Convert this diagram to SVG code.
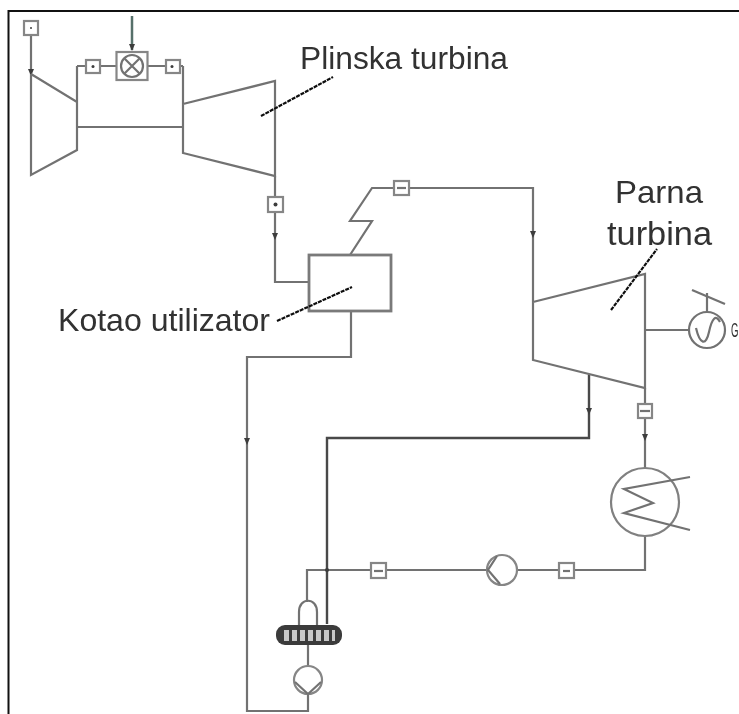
<svg xmlns="http://www.w3.org/2000/svg" width="739" height="714" viewBox="0 0 739 714">
<defs>
<filter id="soft" x="-5%" y="-5%" width="110%" height="110%"><feGaussianBlur stdDeviation="0.6"/></filter>
<filter id="softer" x="-5%" y="-15%" width="110%" height="130%"><feGaussianBlur stdDeviation="0.6"/></filter>
<polygon id="tip" points="-3,-4 3,-4 0,3" fill="#3c3c3c"/>
</defs>
<style>
.l{fill:none;stroke:#727272;stroke-width:2.200}
.d{fill:none;stroke:#484848;stroke-width:2.400}
.t{fill:none;stroke:#808080;stroke-width:2.200}
.b{fill:#fff;stroke:#868686;stroke-width:2.200}
.dot{fill:#3c3c3c}
.lead{fill:none;stroke:#111;stroke-width:2.200;stroke-dasharray:4 1}
.txt{font-family:"Liberation Sans",Arial,sans-serif;fill:#303030}
</style>
<rect width="739" height="714" fill="#fff"/>
<path d="M8.500 714V11H739" fill="none" stroke="#111" stroke-width="2"/>
<g filter="url(#soft)">
<g id="connectors">
<path class="l" d="M31 34V74"/>
<path class="l" d="M77 66H86M100 66H116M147 66H165M179 66H183"/>
<path d="M132 16V50" fill="none" stroke="#56706a" stroke-width="2.500"/>
<path class="l" d="M77 127H183"/>
<path class="l" d="M275 176V197M275 211V282H309"/>
<path class="l" d="M350 255L372 221H350L372 188H394M408 188H533V302"/>
<path class="l" d="M645 388V404M645 418V468"/>
<path class="l" d="M645 330H688"/>
<path class="l" d="M707 312V293"/>
<path class="l" d="M692 290L725 304"/>
<path class="d" d="M589 375V438H327V624"/>
<path class="l" d="M645 536V570H573M559 570H517M487 570H385M371 570H307V602"/>
<path class="l" d="M308 645V667M308 694V711H247V357H351V311"/>
<use href="#tip" x="31" y="73"/>
<use href="#tip" x="132" y="48"/>
<use href="#tip" x="275" y="237"/>
<use href="#tip" x="533" y="235"/>
<use href="#tip" x="589" y="412"/>
<use href="#tip" x="645" y="438"/>
<use href="#tip" x="247" y="442"/>
<circle class="dot" cx="327" cy="570" r="2"/>
</g>
<g id="compressor"><path class="l" d="M31 74L77 102V66M77 102V150L31 175V74"/></g>
<g id="gas-turbine"><path class="l" d="M183 66V153L275 176V81L183 104"/></g>
<g id="state-1"><rect class="b" x="24" y="21" width="14" height="14"/><circle class="dot" cx="31" cy="28" r="1"/></g>
<g id="state-2"><rect class="b" x="86" y="60" width="14" height="13"/><circle class="dot" cx="93" cy="66.500" r="1.500"/></g>
<g id="combustor"><rect class="b" x="116.500" y="52" width="31" height="28"/><circle class="l" cx="132" cy="66" r="11"/><path class="l" d="M124 58L140 74M140 58L124 74"/></g>
<g id="state-3"><rect class="b" x="166" y="60" width="14" height="13"/><circle class="dot" cx="172" cy="66.500" r="1.500"/></g>
<g id="state-4"><rect class="b" x="268" y="197" width="15" height="15"/><circle class="dot" cx="275.500" cy="204.500" r="2"/></g>
<g id="boiler"><rect x="309" y="255" width="82" height="56" fill="none" stroke="#7a7a7a" stroke-width="2.800"/></g>
<g id="state-5"><rect class="b" x="394" y="181" width="15" height="14"/><path class="l" d="M397 188H406"/></g>
<g id="steam-turbine"><path class="l" d="M533 302L645 274V388L533 360V302"/></g>
<g id="generator"><circle class="l" cx="707" cy="330" r="18"/><path class="l" d="M696 328C700 345 706 346 709 332S716 314 720 322"/></g>
<g id="state-6"><rect class="b" x="638" y="404" width="14" height="14"/><path class="l" d="M640 411H650"/></g>
<g id="condenser"><circle class="t" cx="645" cy="502" r="34"/><path class="l" d="M690 477L624 489L653 503L624 513L690 530"/></g>
<g id="state-7"><rect class="b" x="559" y="563" width="15" height="15"/><path class="l" d="M563 571H570"/></g>
<g id="pump-1"><circle class="b" cx="502" cy="570" r="15"/><path class="l" d="M497 556L488 570L500 584"/></g>
<g id="state-8"><rect class="b" x="371" y="563" width="15" height="15"/><path class="l" d="M374 571H383"/></g>
<g id="deaerator">
<path class="l" d="M299 625V612C299 597 317 597 317 612V625"/>
<rect x="276" y="625" width="66" height="20" rx="9" fill="#3a3a3a"/>
<path d="M284 630h5v11h-5zM292 630h5v11h-5zM300 630h5v11h-5zM308 630h5v11h-5zM316 630h5v11h-5zM324 630h5v11h-5zM332 630h3v11h-3z" fill="#c8c8c8"/>
</g>
<g id="pump-2"><circle class="b" cx="308" cy="680" r="14"/><path class="l" d="M295 682L308 694L321 682"/></g>
</g>
<g id="leaders" filter="url(#soft)">
<path class="lead" d="M261 116L333 77"/>
<path class="lead" d="M277 321L352 287"/>
<path class="lead" d="M611 310L657 249"/>
</g>
<g id="labels" filter="url(#softer)">
<text class="txt" x="300" y="69" font-size="31" textLength="208" lengthAdjust="spacingAndGlyphs">Plinska turbina</text>
<text class="txt" x="615" y="203" font-size="32" textLength="88" lengthAdjust="spacingAndGlyphs">Parna</text>
<text class="txt" x="607" y="245" font-size="33" textLength="105" lengthAdjust="spacingAndGlyphs">turbina</text>
<text class="txt" x="58" y="331" font-size="32" textLength="212" lengthAdjust="spacingAndGlyphs">Kotao utilizator</text>
<text class="txt" font-size="20" transform="translate(731 337) scale(0.48 1)">G</text>
</g>
</svg>
